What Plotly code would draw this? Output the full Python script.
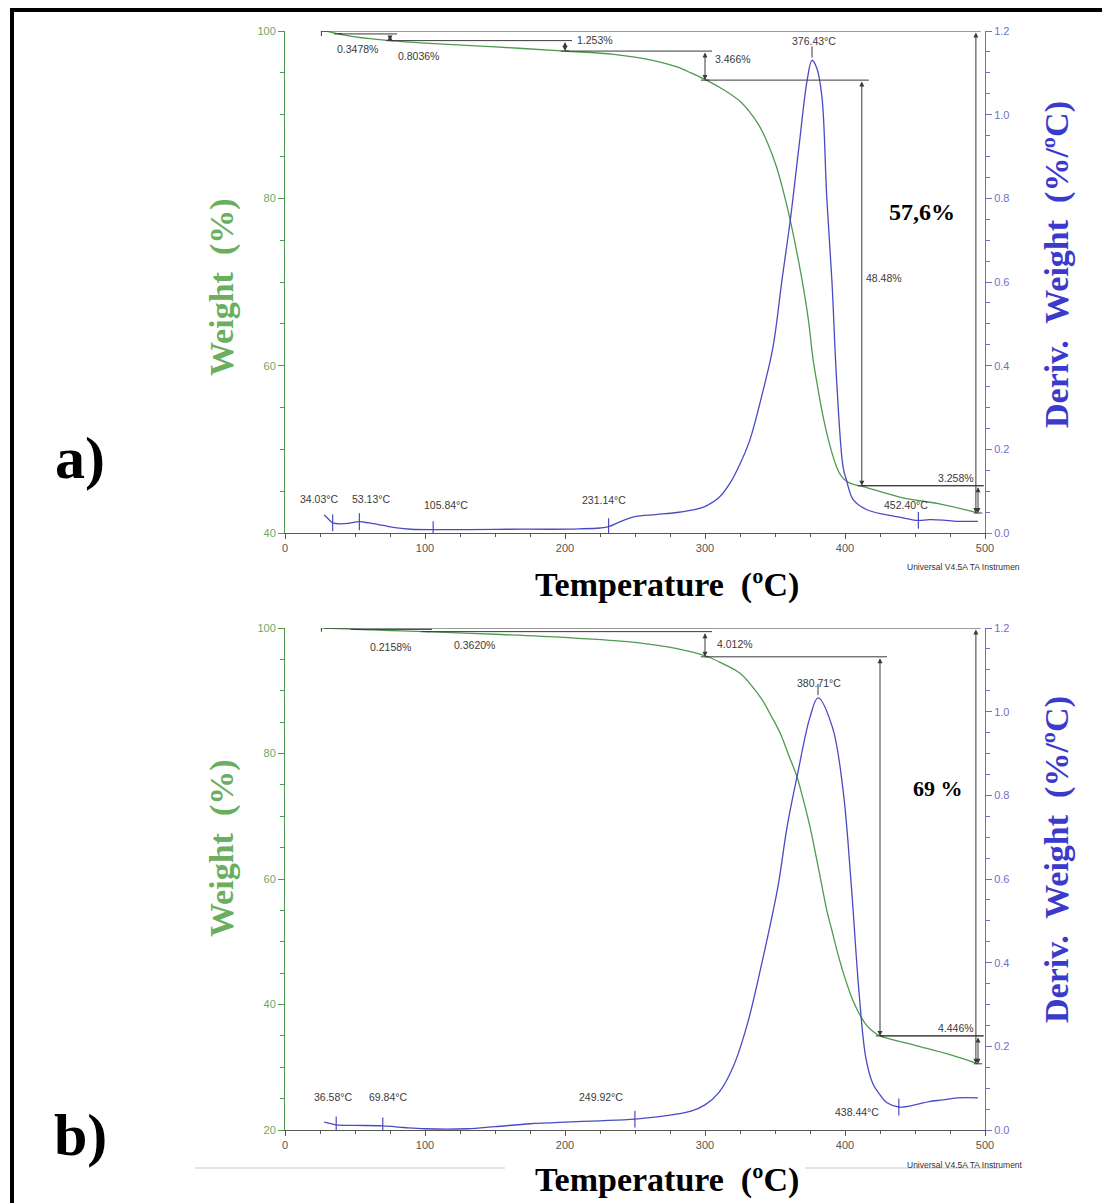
import numpy as np
import plotly.graph_objects as go

W_PX, H_PX = 1102, 1203

# ---------------- data : chart a ----------------
a_w_T = [26, 30, 38, 50, 75, 100, 150, 200, 235, 265, 280, 290, 301.4, 315, 325, 332, 339, 345, 351, 356, 361, 366, 370, 374, 377, 380, 384, 389, 394, 397, 401, 406, 413, 439, 470, 495]
a_w = [100, 99.95, 99.65, 99.3, 98.85, 98.55, 98.1, 97.6, 97.2, 96.4, 95.7, 95.0, 94.1, 92.8, 91.6, 90.3, 88.6, 86.5, 83.8, 80.8, 77.3, 73.2, 69.6, 65.3, 61.0, 57.9, 54.2, 50.6, 47.9, 46.9, 46.2, 45.8, 45.55, 44.3, 43.4, 42.4]
a_d_T = [28, 32, 34, 40, 45, 53, 60, 70, 80, 90, 105, 130, 160, 190, 210, 225, 231, 240, 250, 265, 280, 294, 301, 310, 318, 325, 332, 341.6, 348.6, 355, 361, 367, 373, 376.4, 380, 383.6, 387, 390.7, 394, 398.6, 401, 406, 416, 439, 452, 460, 470, 480, 495]
a_d = [0.043, 0.03, 0.024, 0.022, 0.023, 0.027, 0.024, 0.018, 0.012, 0.009, 0.008, 0.008, 0.009, 0.009, 0.010, 0.012, 0.015, 0.028, 0.039, 0.044, 0.049, 0.057, 0.065, 0.085, 0.12, 0.165, 0.222, 0.342, 0.445, 0.605, 0.75, 0.92, 1.083, 1.13, 1.11, 1.04, 0.80, 0.60, 0.366, 0.158, 0.127, 0.079, 0.055, 0.038, 0.03, 0.032, 0.031, 0.028, 0.028]
a_step_T = [26, 38, 75, 200, 300, 412, 495]
a_step_W = [100, 99.65, 98.85, 97.6, 94.13, 45.65, 42.39]
a_mark_T = [34.03, 53.13, 105.84, 231.14, 452.40]
a_peak_T = 376.43

# ---------------- data : chart b ----------------
b_w_T = [28, 40, 50, 75, 100, 150, 200, 250, 280, 301, 312, 325, 333, 341, 347, 353.6, 360, 365.7, 370, 375, 379, 383.6, 387, 391, 395, 400, 405, 410, 415, 420, 425, 450, 475, 495]
b_w = [100, 99.9, 99.78, 99.6, 99.42, 99.0, 98.5, 97.7, 96.7, 95.5, 94.4, 92.8, 90.9, 88.5, 86.1, 83.3, 79.6, 76.3, 72.8, 68.3, 64.0, 58.8, 55.0, 51.5, 48.0, 44.2, 41.0, 38.6, 36.8, 35.7, 35.0, 33.5, 32.0, 30.55]
b_d_T = [28, 32, 36.6, 50, 70, 85, 100, 130, 150, 175, 200, 225, 250, 270, 290, 300, 310, 320, 330, 340, 352, 358.6, 365.7, 375, 380.7, 391, 398.6, 404.6, 410, 415, 420, 425, 430, 438.4, 450, 460, 470, 480, 495]
b_d = [0.019, 0.016, 0.012, 0.011, 0.010, 0.006, 0.003, 0.003, 0.008, 0.015, 0.019, 0.022, 0.026, 0.033, 0.045, 0.06, 0.09, 0.15, 0.25, 0.39, 0.58, 0.724, 0.844, 0.987, 1.033, 0.963, 0.813, 0.58, 0.33, 0.17, 0.11, 0.084, 0.065, 0.055, 0.06, 0.068, 0.072, 0.077, 0.077]
b_step_T = [26, 50, 100, 300, 425, 495]
b_step_W = [100, 99.78, 99.42, 95.41, 35.0, 30.55]
b_mark_T = [36.58, 69.84, 249.92, 438.44]
b_peak_T = 380.71

GREEN = "#4f9a4f"
GREEN_T = "#6aae5e"
BLUE = "#4a4ac4"
BLUE_T = "#3a3acc"
ANN = "#3a3a3a"
SANS = "Liberation Sans"
SERIF = "Liberation Serif"


def px(x):
    return x / W_PX


def py(y):
    return 1 - y / H_PX


fig = go.Figure()

LS = dict(width=1.3, shape="spline", smoothing=1.0)
fig.add_trace(go.Scatter(x=a_w_T, y=a_w, mode="lines", line=dict(color=GREEN, **LS), xaxis="x", yaxis="y", showlegend=False))
fig.add_trace(go.Scatter(x=a_d_T, y=a_d, mode="lines", line=dict(color=BLUE, **LS), xaxis="x", yaxis="y2", showlegend=False))
fig.add_trace(go.Scatter(x=b_w_T, y=b_w, mode="lines", line=dict(color=GREEN, **LS), xaxis="x2", yaxis="y3", showlegend=False))
fig.add_trace(go.Scatter(x=b_d_T, y=b_d, mode="lines", line=dict(color=BLUE, **LS), xaxis="x2", yaxis="y4", showlegend=False))

# tick markers on derivative curves
for T, D, mt, pk, xa, ya in [(a_d_T, a_d, a_mark_T, a_peak_T, "x", "y2"), (b_d_T, b_d, b_mark_T, b_peak_T, "x2", "y4")]:
    my = list(np.interp(mt, T, D))
    fig.add_trace(go.Scatter(x=mt, y=my, mode="markers", xaxis=xa, yaxis=ya, showlegend=False,
                             marker=dict(symbol="line-ns", size=12, line=dict(color=BLUE, width=1.2))))
    fig.add_trace(go.Scatter(x=[pk], y=[float(np.interp(pk, T, D)) + 0.02], mode="markers", xaxis=xa, yaxis=ya, showlegend=False,
                             marker=dict(symbol="line-ns", size=8, line=dict(color=ANN, width=1))))

shapes = []
annotations = []


def steps(ST, SW, xr, yr):
    shapes.append(dict(type="line", xref=xr, yref=yr, x0=ST[0], x1=ST[0], y0=SW[0] - 0.6, y1=SW[0] + 0.6, line=dict(color=ANN, width=1)))
    shapes.append(dict(type="line", xref=xr, yref=yr, x0=ST[0], x1=ST[-1] + 2, y0=SW[0], y1=SW[0], line=dict(color=ANN, width=1)))
    for i in range(1, len(ST)):
        x0 = ST[i - 1]
        x1 = ST[i] + (5 if i < len(ST) - 1 else 4)
        if i >= 2:
            shapes.append(dict(type="line", xref=xr, yref=yr, x0=x0, x1=x1, y0=SW[i - 1], y1=SW[i - 1], line=dict(color=ANN, width=1)))
        annotations.append(dict(xref=xr, yref=yr, axref=xr, ayref=yr, x=ST[i], y=SW[i], ax=ST[i], ay=SW[i - 1], text="",
                                showarrow=True, arrowhead=2, arrowsize=1, arrowwidth=1, arrowcolor=ANN, arrowside="end+start"))
        shapes.append(dict(type="line", xref=xr, yref=yr, x0=ST[i] - 3, x1=ST[i] + 3, y0=SW[i], y1=SW[i], line=dict(color=ANN, width=1)))
    shapes.append(dict(type="line", xref=xr, yref=yr, x0=ST[-2], x1=ST[-1] + 4, y0=SW[-2], y1=SW[-2], line=dict(color=ANN, width=1)))
    annotations.append(dict(xref=xr, yref=yr, axref=xr, ayref=yr, x=ST[-1] - 1.5, y=SW[-1], ax=ST[-1] - 1.5, ay=SW[0], text="",
                            showarrow=True, arrowhead=2, arrowsize=1, arrowwidth=1, arrowcolor=ANN, arrowside="end+start"))


steps(a_step_T, a_step_W, "x", "y")
steps(b_step_T, b_step_W, "x2", "y3")


def txt(x, y, s, xr, yr, anchor="left", size=10.5, color=ANN):
    annotations.append(dict(x=x, y=y, xref=xr, yref=yr, text=s, showarrow=False, xanchor=anchor, yanchor="middle",
                            font=dict(family=SANS, size=size, color=color)))


# chart a texts
txt(35.5, 97.9, "0.3478%", "x", "y")
txt(79.3, 97.0, "0.8036%", "x", "y")
txt(207, 98.9, "1.253%", "x", "y")
txt(306, 96.65, "3.466%", "x", "y")
txt(361, 98.8, "376.43°C", "x", "y")
txt(413.6, 70.5, "48.48%", "x", "y")
txt(493.6, 46.6, "3.258%", "x", "y", anchor="right")
txt(426.4, 43.35, "452.40°C", "x", "y")
txt(9.3, 44.1, "34.03°C", "x", "y")
txt(46.4, 44.1, "53.13°C", "x", "y")
txt(97.9, 43.35, "105.84°C", "x", "y")
txt(210.7, 43.95, "231.14°C", "x", "y")
# chart b texts
txt(59.3, 96.97, "0.2158%", "x2", "y3")
txt(119.3, 97.3, "0.3620%", "x2", "y3")
txt(307, 97.45, "4.012%", "x2", "y3")
txt(364.3, 91.2, "380.71°C", "x2", "y3")
txt(493.6, 36.25, "4.446%", "x2", "y3", anchor="right")
txt(391.4, 22.9, "438.44°C", "x2", "y3")
txt(19.3, 25.3, "36.58°C", "x2", "y3")
txt(58.6, 25.3, "69.84°C", "x2", "y3")
txt(208.6, 25.3, "249.92°C", "x2", "y3")

txt(px(905), py(567), "Universal V4.5A TA Instrumen", "paper", "paper", size=8.5, color="#333")
txt(px(905), py(1165), "Universal V4.5A TA Instrument", "paper", "paper", size=8.5, color="#333")


def big(x, y, s, size, color="black", angle=0):
    annotations.append(dict(x=px(x), y=py(y), xref="paper", yref="paper", text="<b>" + s + "</b>", showarrow=False,
                            xanchor="center", yanchor="middle", textangle=angle,
                            font=dict(family=SERIF, size=size, color=color)))


big(80, 458, "a)", 60)
big(80, 1135, "b)", 60)
big(922, 212, "57,6%", 24)
big(938, 788, "69 %", 22)
big(667, 585, "Temperature  (ºC)", 34)
big(667, 1180, "Temperature  (ºC)", 34)
big(222, 287, "Weight  (%)", 34, GREEN_T, -90)
big(222, 848, "Weight  (%)", 34, GREEN_T, -90)
big(1057, 265, "Deriv.  Weight  (%/ºC)", 34, BLUE_T, -90)
big(1057, 860, "Deriv.  Weight  (%/ºC)", 34, BLUE_T, -90)

shapes.append(dict(type="rect", xref="paper", yref="paper", x0=px(12), x1=px(1104), y0=py(1210), y1=py(10),
                   line=dict(color="black", width=4)))
shapes.append(dict(type="line", xref="paper", yref="paper", x0=px(195), x1=px(505), y0=py(1168), y1=py(1168), line=dict(color="#c8c8c8", width=1)))
shapes.append(dict(type="line", xref="paper", yref="paper", x0=px(805), x1=px(1000), y0=py(1168), y1=py(1168), line=dict(color="#c8c8c8", width=1)))

xdom = [px(285), px(985)]
a_dom = [py(533), py(31)]
b_dom = [py(1130), py(628)]

xcommon = dict(range=[0, 500], domain=xdom, showgrid=False, zeroline=False, showline=True, linecolor="#555", linewidth=1,
               ticks="outside", ticklen=5, tickcolor="#555", dtick=100, tick0=0, automargin=False,
               tickfont=dict(family=SANS, size=11, color="#555"),
               minor=dict(dtick=25, ticks="outside", ticklen=3, tickcolor="#555"))
lcommon = dict(showgrid=False, zeroline=False, showline=True, linecolor=GREEN, linewidth=1, ticks="outside", ticklen=6,
               tickcolor=GREEN, tickfont=dict(family=SANS, size=11, color="#6aa86a"), dtick=20, automargin=False,
               minor=dict(dtick=5, ticks="outside", ticklen=4, tickcolor=GREEN))
rcommon = dict(showgrid=False, zeroline=False, showline=True, linecolor="#7070cc", linewidth=1, ticks="outside", ticklen=6,
               tickcolor="#7070cc", tickfont=dict(family=SANS, size=11, color="#7070cc"), dtick=0.2, tickformat=".1f",
               range=[0, 1.2], side="right", automargin=False,
               minor=dict(dtick=0.05, ticks="outside", ticklen=4, tickcolor="#7070cc"))

fig.update_layout(
    width=W_PX, height=H_PX, margin=dict(l=0, r=0, t=0, b=0, autoexpand=False),
    paper_bgcolor="white", plot_bgcolor="rgba(0,0,0,0)",
    showlegend=False,
    xaxis=dict(**xcommon, anchor="y"),
    xaxis2=dict(**xcommon, anchor="y3"),
    yaxis=dict(**lcommon, range=[40, 100], domain=a_dom, anchor="x"),
    yaxis2=dict(**rcommon, domain=a_dom, anchor="x", overlaying="y"),
    yaxis3=dict(**lcommon, range=[20, 100], domain=b_dom, anchor="x2"),
    yaxis4=dict(**rcommon, domain=b_dom, anchor="x2", overlaying="y3"),
    shapes=shapes,
    annotations=annotations,
)

fig.write_html("out.html")
